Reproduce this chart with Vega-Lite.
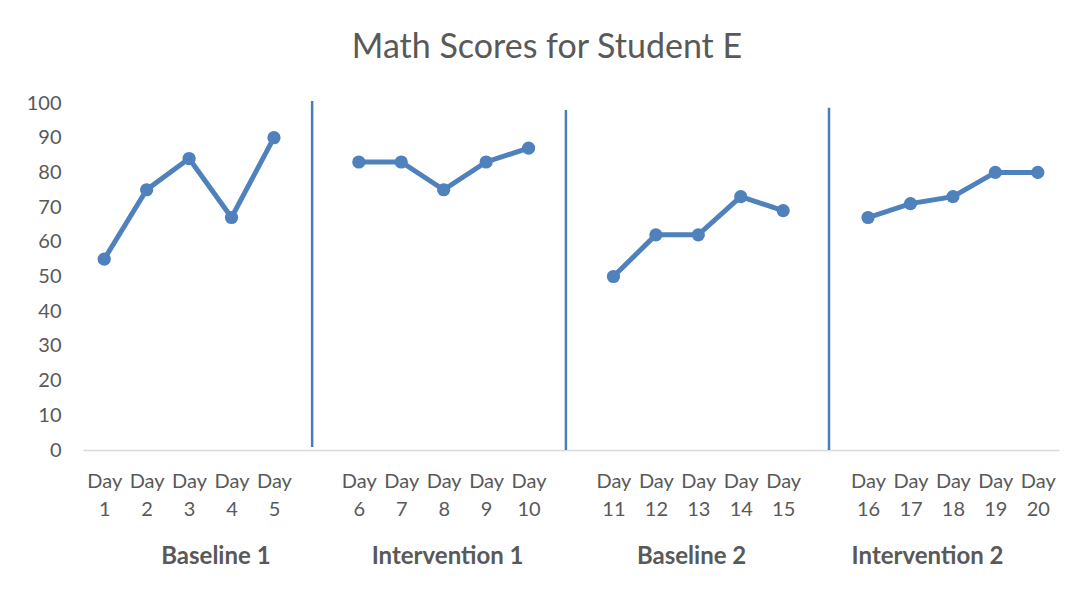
{
  "$schema": "https://vega.github.io/schema/vega-lite/v6.json",
  "autosize": "none",
  "width": 976,
  "height": 347,
  "padding": {"left": 83, "top": 103, "right": 23, "bottom": 145},
  "background": "white",
  "config": {
    "view": {"stroke": null},
    "font": "Lato",
    "axis": {"labelFont": "Lato", "labelColor": "#595959", "grid": false, "ticks": false},
    "axisY": {"labelOverlap": false, "domain": false, "labelFontSize": 20, "labelPadding": 22, "title": null}
  },
  "title": {
    "text": "Math Scores for Student E",
    "font": "Lato",
    "fontSize": 34,
    "fontWeight": "normal",
    "color": "#595959",
    "anchor": "middle",
    "dx": -24,
    "offset": 28
  },
  "datasets": {
    "scores": [
      {"slot": 1, "day": 1, "score": 55, "phase": "Baseline 1"},
      {"slot": 2, "day": 2, "score": 75, "phase": "Baseline 1"},
      {"slot": 3, "day": 3, "score": 84, "phase": "Baseline 1"},
      {"slot": 4, "day": 4, "score": 67, "phase": "Baseline 1"},
      {"slot": 5, "day": 5, "score": 90, "phase": "Baseline 1"},
      {"slot": 7, "day": 6, "score": 83, "phase": "Intervention 1"},
      {"slot": 8, "day": 7, "score": 83, "phase": "Intervention 1"},
      {"slot": 9, "day": 8, "score": 75, "phase": "Intervention 1"},
      {"slot": 10, "day": 9, "score": 83, "phase": "Intervention 1"},
      {"slot": 11, "day": 10, "score": 87, "phase": "Intervention 1"},
      {"slot": 13, "day": 11, "score": 50, "phase": "Baseline 2"},
      {"slot": 14, "day": 12, "score": 62, "phase": "Baseline 2"},
      {"slot": 15, "day": 13, "score": 62, "phase": "Baseline 2"},
      {"slot": 16, "day": 14, "score": 73, "phase": "Baseline 2"},
      {"slot": 17, "day": 15, "score": 69, "phase": "Baseline 2"},
      {"slot": 19, "day": 16, "score": 67, "phase": "Intervention 2"},
      {"slot": 20, "day": 17, "score": 71, "phase": "Intervention 2"},
      {"slot": 21, "day": 18, "score": 73, "phase": "Intervention 2"},
      {"slot": 22, "day": 19, "score": 80, "phase": "Intervention 2"},
      {"slot": 23, "day": 20, "score": 80, "phase": "Intervention 2"}
    ],
    "dividers": [
      {"pos": 5.9, "y1": 0.9, "y2": 100.6},
      {"pos": 11.88, "y1": 0, "y2": 98},
      {"pos": 18.08, "y1": 0, "y2": 98.6}
    ],
    "phases": [
      {"center": 3.62, "phase": "Baseline 1"},
      {"center": 9.08, "phase": "Intervention 1"},
      {"center": 14.83, "phase": "Baseline 2"},
      {"center": 20.39, "phase": "Intervention 2"}
    ]
  },
  "resolve": {"axis": {"x": "independent"}},
  "layer": [
    {
      "data": {"name": "scores"},
      "mark": {"type": "line", "color": "#4f81bd", "strokeWidth": 5},
      "encoding": {
        "x": {
          "field": "slot", "type": "quantitative",
          "scale": {"domain": [0.5, 23.5], "nice": false, "zero": false},
          "axis": {
            "orient": "bottom",
            "title": null,
            "values": [1,2,3,4,5,7,8,9,10,11,13,14,15,16,17,19,20,21,22,23],
            "labelExpr": "['Day', '' + (datum.value - floor((datum.value - 1) / 6))]",
            "labelFontSize": 20,
            "labelLineHeight": 28,
            "labelPadding": 21,
            "labelFlush": false,
            "labelOverlap": false,
            "domainColor": "#d9d9d9",
            "domainWidth": 1.5
          }
        },
        "y": {
          "field": "score", "type": "quantitative",
          "scale": {"domain": [0, 100], "nice": false},
          "axis": {"values": [0,10,20,30,40,50,60,70,80,90,100]}
        },
        "detail": {"field": "phase"}
      }
    },
    {
      "data": {"name": "scores"},
      "mark": {"type": "point", "filled": true, "opacity": 1, "color": "#4f81bd", "size": 175},
      "encoding": {
        "x": {"field": "slot", "type": "quantitative", "axis": null},
        "y": {"field": "score", "type": "quantitative", "axis": {"values": [0,10,20,30,40,50,60,70,80,90,100]}}
      }
    },
    {
      "data": {"name": "dividers"},
      "mark": {"type": "rule", "color": "#4a7ebb", "strokeWidth": 2.5},
      "encoding": {
        "x": {"field": "pos", "type": "quantitative", "axis": null},
        "y": {"field": "y1", "type": "quantitative", "axis": {"values": [0,10,20,30,40,50,60,70,80,90,100]}},
        "y2": {"field": "y2"}
      }
    },
    {
      "data": {"name": "phases"},
      "mark": {"type": "point", "opacity": 0},
      "encoding": {
        "x": {
          "field": "center", "type": "quantitative",
          "axis": {
            "orient": "bottom",
            "title": null,
            "values": [3.62, 9.08, 14.83, 20.39],
            "labelExpr": "datum.value < 6 ? 'Baseline 1' : datum.value < 12 ? 'Intervention 1' : datum.value < 18 ? 'Baseline 2' : 'Intervention 2'",
            "labelFontSize": 24,
            "labelFontWeight": "bold",
            "labelPadding": 94,
            "labelFlush": false,
            "labelOverlap": false,
            "domain": false
          }
        }
      }
    }
  ]
}
